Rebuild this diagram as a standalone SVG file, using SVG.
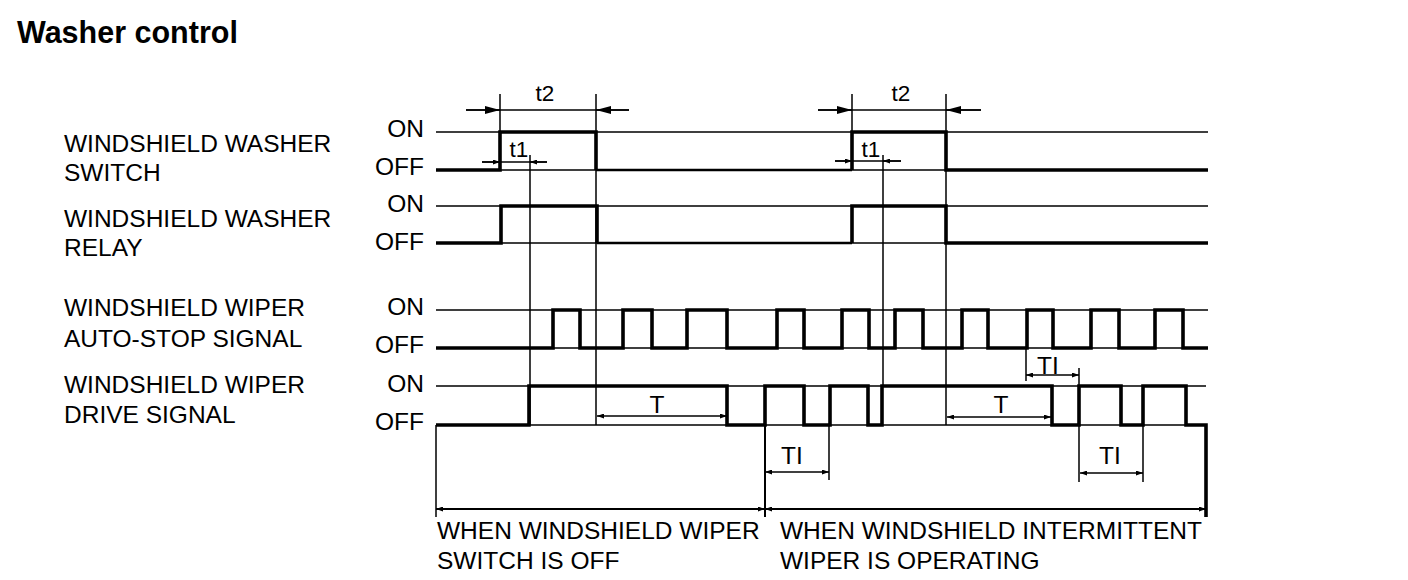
<svg xmlns="http://www.w3.org/2000/svg" width="1408" height="580" viewBox="0 0 1408 580">
<defs>
<marker id="ah" viewBox="0 0 10 10" refX="10" refY="5" markerWidth="7" markerHeight="5" markerUnits="userSpaceOnUse" orient="auto-start-reverse" preserveAspectRatio="none"><path d="M0,0 L10,5 L0,10 z" fill="#000"/></marker>
<marker id="ahBig" viewBox="0 0 10 10" refX="10" refY="5" markerWidth="15" markerHeight="8" markerUnits="userSpaceOnUse" orient="auto-start-reverse" preserveAspectRatio="none"><path d="M0,0 L10,5 L0,10 z" fill="#000"/></marker>
</defs>
<style>
text{font-family:"Liberation Sans",Arial,Helvetica,sans-serif;fill:#000}
.title{font-size:30.5px;font-weight:bold}
.lbl{font-size:24.5px}
.lvl{font-size:24.5px;text-anchor:end}
.dim{font-size:22.5px;text-anchor:middle}
.dimT{font-size:24.5px;text-anchor:middle}
.ref{stroke:#000;stroke-width:1.6;fill:none}
.sig{stroke:#000;stroke-width:3.6;fill:none;stroke-linejoin:miter;stroke-linecap:butt}
.mid{stroke:#000;stroke-width:2.4;fill:none}
.thin{stroke:#000;stroke-width:1.5;fill:none}
.arr{marker-start:url(#ah);marker-end:url(#ah)}
.inS{marker-end:url(#ah)}
.inB{marker-end:url(#ahBig)}
</style>
<rect width="1408" height="580" fill="#fff"/>
<text class="title" x="17" y="43">Washer control</text>

<g id="washer-switch">
<text class="lbl" x="64" y="152">WINDSHIELD WASHER</text>
<text class="lbl" x="64" y="181">SWITCH</text>
<text class="lvl" x="424" y="137">ON</text>
<text class="lvl" x="424" y="175">OFF</text>
<path class="ref" d="M436 132 H1208 M436 170 H1208"/>
<path class="sig" d="M436 170 H500 V132 H596 V170"/>
<path class="mid" d="M596 170 H852"/>
<path class="sig" d="M852 170 V132 H946 V170 H1208"/>
</g>

<g id="washer-relay">
<text class="lbl" x="64" y="227">WINDSHIELD WASHER</text>
<text class="lbl" x="64" y="256">RELAY</text>
<text class="lvl" x="424" y="212">ON</text>
<text class="lvl" x="424" y="250">OFF</text>
<path class="ref" d="M436 206 H1208 M436 243 H1208"/>
<path class="sig" d="M436 243 H501 V206 H597 V243"/>
<path class="mid" d="M597 243 H852"/>
<path class="sig" d="M852 243 V206 H946 V243 H1208"/>
</g>

<g id="auto-stop">
<text class="lbl" x="64" y="316">WINDSHIELD WIPER</text>
<text class="lbl" x="64" y="347">AUTO-STOP SIGNAL</text>
<text class="lvl" x="424" y="315">ON</text>
<text class="lvl" x="424" y="353">OFF</text>
<path class="ref" d="M436 310 H1208 M436 348 H1208"/>
<path class="sig" d="M436 348 H553 V310 H580 V348 H623 V310 H652 V348 H687 V310 H727 V348 H777 V310 H804 V348 H842 V310 H869 V348 H895 V310 H923 V348 H962 V310 H988 V348 H1027 V310 H1053 V348 H1091 V310 H1119 V348 H1155 V310 H1183 V348 H1208"/>
</g>

<g id="drive-signal">
<text class="lbl" x="64" y="393">WINDSHIELD WIPER</text>
<text class="lbl" x="64" y="423">DRIVE SIGNAL</text>
<text class="lvl" x="424" y="392">ON</text>
<text class="lvl" x="424" y="430">OFF</text>
<path class="ref" d="M436 386 H1206 M436 425 H1206"/>
<path class="sig" d="M436 425 H529 V386 H727 V425 H765 V386 H804 V425 H830 V386 H868 V425 H882 V386 H1052 V425 H1079 V386 H1121 V425 H1143 V386 H1186 V425 H1206 V517"/>
</g>

<g id="connectors">
<path class="thin" d="M500 94 V132 M596 94 V425 M852 94 V132 M946 94 V425 M530 155 V425 M883 155 V386 M436 425 V517 M829 425 V480 M1026 348 V381 M1079 368 V482 M1143 425 V482"/>
<path class="thin" style="stroke-width:2" d="M765 386 V517"/>
<path class="thin" d="M466 110 H629"/>
<path class="thin inB" d="M466 110 H500"/>
<path class="thin inB" d="M629 110 H596"/>
<path class="thin" d="M818 110 H981"/>
<path class="thin inB" d="M818 110 H852"/>
<path class="thin inB" d="M981 110 H946"/>
<path class="thin" d="M482 162 H547"/>
<path class="thin inS" d="M482 162 H500"/>
<path class="thin inS" d="M547 162 H530"/>
<path class="thin" d="M835 161 H901"/>
<path class="thin inS" d="M835 161 H852"/>
<path class="thin inS" d="M901 161 H883"/>
<path class="thin arr" d="M597 416 H727"/>
<path class="thin arr" d="M947 417 H1051"/>
<path class="thin arr" d="M1026 375 H1079"/>
<path class="thin arr" d="M765 472 H829"/>
<path class="thin arr" d="M1080 473 H1143"/>
<path class="thin arr" style="stroke-width:2" d="M436 509 H765"/>
<path class="thin arr" style="stroke-width:2" d="M765 509 H1206"/>
</g>

<g id="dim-labels">
<text class="dim" x="545" y="101">t2</text>
<text class="dim" x="901" y="101">t2</text>
<text class="dim" x="519" y="157">t1</text>
<text class="dim" x="871" y="157">t1</text>
<text class="dimT" x="657" y="413">T</text>
<text class="dimT" x="1001" y="413">T</text>
<text class="dimT" x="1048" y="374">TI</text>
<text class="dimT" x="792" y="464">TI</text>
<text class="dimT" x="1110" y="464">TI</text>
</g>

<g id="period-labels">
<text class="lbl" x="437" y="539">WHEN WINDSHIELD WIPER</text>
<text class="lbl" x="437" y="569">SWITCH IS OFF</text>
<text class="lbl" x="780" y="539">WHEN WINDSHIELD INTERMITTENT</text>
<text class="lbl" x="780" y="569">WIPER IS OPERATING</text>
</g>
</svg>
